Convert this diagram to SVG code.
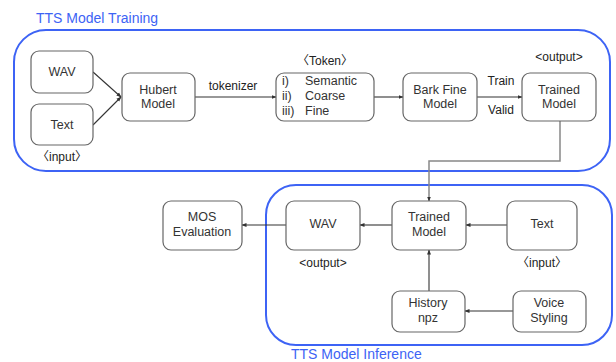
<svg xmlns="http://www.w3.org/2000/svg" width="616" height="362" viewBox="0 0 616 362">
<style>
  .grp{fill:none;stroke:#3d63f5;stroke-width:2}
  .title{font-family:"Liberation Sans","Noto Sans CJK KR",sans-serif;font-size:14px;fill:#3d63f5}
  .box{fill:#fff;stroke:#666;stroke-width:1.2}
  .lbl{font-family:"Liberation Sans","Noto Sans CJK KR",sans-serif;font-size:12.5px;fill:#333;text-anchor:middle}
  .note{font-family:"Liberation Sans","Noto Sans CJK KR",sans-serif;font-size:12px;fill:#222;text-anchor:middle}
  .br{font-family:"Noto Sans CJK KR",sans-serif}
  .lst{font-family:"Liberation Sans","Noto Sans CJK KR",sans-serif;font-size:12.5px;fill:#333}
  .edge{fill:none;stroke:#333;stroke-width:1.1;marker-end:url(#ah)}
  .edge2{fill:none;stroke:#888;stroke-width:1.5;marker-end:url(#ah)}
</style>
<defs>
  <marker id="ah" viewBox="0 0 10 10" refX="9" refY="5" markerWidth="5" markerHeight="5" orient="auto" markerUnits="userSpaceOnUse">
    <path d="M0,1 L10,5 L0,9 z" fill="#333"/>
  </marker>
</defs>
<rect width="616" height="362" fill="#fff"/>

<g id="training">
  <rect class="grp" x="14" y="30" width="596" height="141" rx="32"/>
  <text class="title" x="36" y="23">TTS Model Training</text>
</g>
<g id="inference">
  <rect class="grp" x="266" y="185" width="346" height="160" rx="30"/>
  <text class="title" x="291" y="359">TTS Model Inference</text>
</g>

<g id="connectors">
  <path class="edge" d="M93,72 L121,97"/>
  <path class="edge" d="M93,125 L121,97"/>
  <path class="edge" d="M195,97 L276,97"/>
  <path class="edge" d="M374,97 L403,97"/>
  <path class="edge" d="M477,97 L522,97"/>
  <path class="edge2" d="M560,121 L560,161 L429,161 L429,201"/>
  <path class="edge" d="M507,225 L466,225"/>
  <path class="edge" d="M392,225 L360,225"/>
  <path class="edge" d="M286,225 L242,225"/>
  <path class="edge" d="M429,291 L429,250"/>
  <path class="edge" d="M513,311 L465,311"/>
  <text class="note" x="233" y="90">tokenizer</text>
  <text class="note" x="501" y="85">Train</text>
  <text class="note" x="501" y="114">Valid</text>
</g>

<g id="wav-in">
  <rect class="box" x="31" y="51" width="62" height="42" rx="8"/>
  <text class="lbl" x="62" y="76">WAV</text>
</g>
<g id="text-in">
  <rect class="box" x="31" y="104" width="62" height="41" rx="8"/>
  <text class="lbl" x="62" y="129">Text</text>
  <text class="note" x="62" y="161"><tspan class="br">〈</tspan>input<tspan class="br">〉</tspan></text>
</g>
<g id="hubert">
  <rect class="box" x="122" y="73" width="73" height="48" rx="8"/>
  <text class="lbl" x="158" y="94">Hubert</text>
  <text class="lbl" x="158" y="108">Model</text>
</g>
<g id="token">
  <rect class="box" x="276" y="73" width="98" height="48" rx="8"/>
  <text class="note" x="325" y="65"><tspan class="br">〈</tspan>Token<tspan class="br">〉</tspan></text>
  <text class="lst" x="282" y="85">i)</text>
  <text class="lst" x="282" y="100">ii)</text>
  <text class="lst" x="282" y="115">iii)</text>
  <text class="lst" x="305" y="85">Semantic</text>
  <text class="lst" x="305" y="100">Coarse</text>
  <text class="lst" x="305" y="115">Fine</text>
</g>
<g id="bark">
  <rect class="box" x="403" y="73" width="74" height="48" rx="8"/>
  <text class="lbl" x="440" y="94">Bark Fine</text>
  <text class="lbl" x="440" y="108">Model</text>
</g>
<g id="trained-train">
  <rect class="box" x="522" y="73" width="74" height="48" rx="8"/>
  <text class="note" x="559" y="61">&lt;output&gt;</text>
  <text class="lbl" x="559" y="94">Trained</text>
  <text class="lbl" x="559" y="108">Model</text>
</g>

<g id="mos">
  <rect class="box" x="163" y="201" width="79" height="49" rx="8"/>
  <text class="lbl" x="202" y="221">MOS</text>
  <text class="lbl" x="202" y="236">Evaluation</text>
</g>
<g id="wav-out">
  <rect class="box" x="286" y="201" width="74" height="49" rx="8"/>
  <text class="lbl" x="323" y="228">WAV</text>
  <text class="note" x="323" y="267">&lt;output&gt;</text>
</g>
<g id="trained-inf">
  <rect class="box" x="392" y="201" width="74" height="49" rx="8"/>
  <text class="lbl" x="429" y="221">Trained</text>
  <text class="lbl" x="429" y="236">Model</text>
</g>
<g id="text-inf">
  <rect class="box" x="507" y="201" width="70" height="49" rx="8"/>
  <text class="lbl" x="542" y="228">Text</text>
  <text class="note" x="542" y="267"><tspan class="br">〈</tspan>input<tspan class="br">〉</tspan></text>
</g>
<g id="history">
  <rect class="box" x="392" y="291" width="73" height="41" rx="8"/>
  <text class="lbl" x="428" y="307">History</text>
  <text class="lbl" x="428" y="322">npz</text>
</g>
<g id="voice">
  <rect class="box" x="513" y="291" width="73" height="41" rx="8"/>
  <text class="lbl" x="549" y="307">Voice</text>
  <text class="lbl" x="549" y="322">Styling</text>
</g>
</svg>
